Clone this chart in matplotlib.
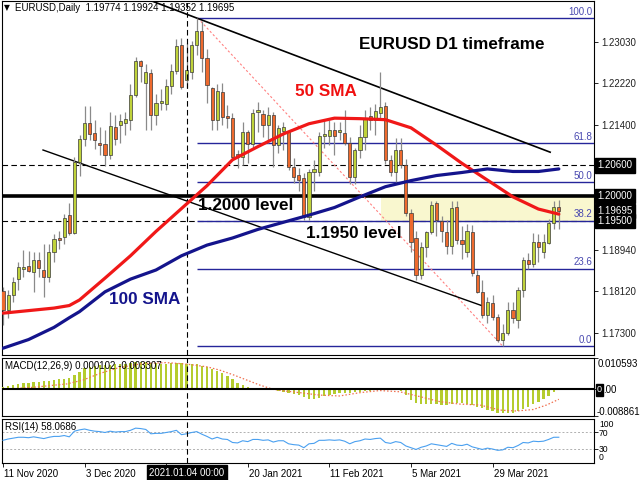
import matplotlib
matplotlib.use('Agg')
import matplotlib.pyplot as plt
from matplotlib.patches import Rectangle
import matplotlib.transforms as mtrans

# ---------------- data ----------------
opens = [1.1812,1.1775,1.1805,1.1836,1.1855,1.1862,1.1850,1.1874,1.1854,1.1840,
         1.1890,1.1917,1.1919,1.1962,1.1927,1.2067,1.2112,1.2143,1.2123,1.2104,
         1.2102,1.2080,1.2135,1.2140,1.2143,1.2149,1.2199,1.2266,1.2222,1.2242,
         1.2159,1.2183,1.2181,1.2216,1.2246,1.2297,1.2228,1.2244,1.2297,1.2325,
         1.2271,1.2212,1.2149,1.2205,1.2157,1.2153,1.2082,1.2077,1.2126,1.2102,
         1.2165,1.2161,1.2140,1.2159,1.2100,1.2128,1.2126,1.2057,1.2041,1.2035,
         1.1958,1.2047,1.2047,1.2118,1.2118,1.2130,1.2125,1.2124,1.2104,1.2037,
         1.2090,1.2116,1.2157,1.2149,1.2163,1.2177,1.2071,1.2047,1.2090,1.2061,
         1.1966,1.1917,1.1844,1.1899,1.1929,1.1985,1.1951,1.1928,1.1901,1.1978,
         1.1914,1.1890,1.1929,1.1844,1.1811,1.1765,1.1789,1.1761,1.1716,1.1730,
         1.1775,1.1755,1.1815,1.1874,1.1866,1.1909,1.1889,1.1907,1.1947,1.19774]
highs = [1.1820,1.1815,1.1840,1.1870,1.1894,1.1892,1.1890,1.1890,1.1905,1.1905,
         1.1925,1.1930,1.1965,1.1985,1.2077,1.2120,1.2177,1.2177,1.2150,1.2135,
         1.2130,1.2165,1.2160,1.2162,1.2165,1.2220,1.2273,1.2268,1.2260,1.2250,
         1.2200,1.2210,1.2230,1.2260,1.2309,1.2310,1.2301,1.2305,1.2350,1.2344,
         1.2290,1.2215,1.2220,1.2223,1.2178,1.2163,1.2090,1.2145,1.2130,1.2172,
         1.2185,1.2170,1.2175,1.2165,1.2140,1.2145,1.2130,1.2075,1.2055,1.2045,
         1.2053,1.2070,1.2125,1.2150,1.2150,1.2145,1.2145,1.2169,1.2115,1.2095,
         1.2140,1.2170,1.2175,1.2180,1.2243,1.2185,1.2080,1.2114,1.2114,1.2072,
         1.1975,1.1930,1.1910,1.1930,1.1990,1.1990,1.1960,1.1952,1.1990,1.1989,
         1.1940,1.1945,1.1942,1.1853,1.1835,1.1800,1.1805,1.1768,1.1747,1.1790,
         1.1790,1.1820,1.1880,1.1888,1.1927,1.1925,1.1925,1.1955,1.1990,1.19924]
lows = [1.1745,1.1760,1.1790,1.1815,1.1840,1.1850,1.1810,1.1840,1.1801,1.1830,
        1.1870,1.1895,1.1905,1.1923,1.1925,1.2039,1.2099,1.2110,1.2092,1.2080,
        1.2058,1.2072,1.2100,1.2105,1.2120,1.2130,1.2195,1.2225,1.2130,1.2130,
        1.2140,1.2170,1.2170,1.2200,1.2240,1.2210,1.2212,1.2230,1.2277,1.2244,
        1.2183,1.2130,1.2130,1.2140,1.2133,1.2070,1.2054,1.2060,1.2065,1.2095,
        1.2125,1.2115,1.2105,1.2057,1.2085,1.2090,1.2050,1.2025,1.2010,1.1952,
        1.1952,1.2010,1.2040,1.2095,1.2100,1.2080,1.2110,1.2100,1.2023,1.2023,
        1.2075,1.2090,1.2130,1.2120,1.2150,1.2063,1.2040,1.2023,1.2055,1.1960,
        1.1889,1.1835,1.1836,1.1880,1.1925,1.1920,1.1910,1.1885,1.1885,1.1905,
        1.1875,1.1880,1.1843,1.1808,1.1760,1.1750,1.1755,1.1712,1.1704,1.1725,
        1.1750,1.1740,1.1800,1.1856,1.1860,1.1870,1.1878,1.1905,1.1935,1.19352]
closes = [1.1775,1.1805,1.1830,1.1860,1.1860,1.1852,1.1874,1.1858,1.1840,1.1890,
          1.1915,1.1913,1.1957,1.1927,1.2067,1.2112,1.2143,1.2122,1.2110,1.2100,
          1.2080,1.2138,1.2112,1.2148,1.2151,1.2199,1.2266,1.2255,1.2244,1.2159,
          1.2183,1.2187,1.2216,1.2246,1.2295,1.2214,1.2248,1.2297,1.2325,1.2271,
          1.2218,1.2149,1.2206,1.2155,1.2153,1.2077,1.2077,1.2126,1.2103,1.2163,
          1.2170,1.2140,1.2159,1.2100,1.2134,1.2136,1.2057,1.2037,1.2031,1.1958,
          1.2047,1.2053,1.2118,1.2122,1.2130,1.2118,1.2130,1.2104,1.2037,1.2090,
          1.2116,1.2153,1.2149,1.2167,1.2175,1.2071,1.2047,1.2090,1.2061,1.1966,
          1.1909,1.1844,1.1899,1.1929,1.1982,1.1953,1.1930,1.1901,1.1977,1.1914,
          1.1906,1.1930,1.1848,1.1811,1.1765,1.1791,1.1761,1.1716,1.1730,1.1775,
          1.1759,1.1815,1.1874,1.1866,1.1909,1.1900,1.1909,1.1947,1.1978,1.19695]

ma_idx = [0, 5, 10, 13, 15, 20, 25, 30, 35, 40, 45, 50, 55, 60, 65, 70, 75, 80, 85, 90, 95, 100, 105, 109]
sma50 = [1.1769,1.1774,1.1779,1.1784,1.1795,1.1838,1.1882,1.1930,1.1975,1.2020,1.2071,1.2097,1.2122,
         1.2142,1.2153,1.2152,1.2150,1.2134,1.2100,1.2064,1.2031,1.1998,1.1974,1.1964]
sma100 = [1.1700,1.1717,1.1741,1.1760,1.1772,1.1811,1.1836,1.1854,1.1882,1.1903,1.1917,1.1934,1.1948,
          1.1962,1.1977,1.1998,1.2018,1.2030,1.2040,1.2046,1.2053,1.2048,1.2048,1.2053]

macd_hist = [0.00067,0.0011,0.0013,0.0018,0.0020,0.0022,0.0024,0.0025,0.0027,0.0029,
             0.0031,0.0033,0.0035,0.0037,0.0048,0.0059,0.0070,0.0075,0.0078,0.0080,
             0.0081,0.0082,0.0083,0.0084,0.0085,0.0088,0.0091,0.0092,0.0092,0.0089,
             0.0086,0.0085,0.0085,0.0086,0.0089,0.0086,0.0084,0.0084,0.0083,0.0078,
             0.0073,0.0067,0.0061,0.0053,0.0044,0.0033,0.0022,0.0016,0.0009,0.0006,
             0.0002,0.0000,-0.0002,-0.0003,-0.0006,-0.0008,-0.0011,-0.0014,-0.0019,-0.0027,
             -0.0032,-0.0033,-0.0029,-0.0022,-0.0019,-0.0016,-0.0013,-0.0011,-0.0011,-0.0010,
             -0.0008,-0.0007,-0.0004,0.0004,0.0006,0.0002,0.0000,-0.0002,-0.0006,-0.0019,
             -0.0035,-0.0047,-0.0050,-0.0050,-0.0049,-0.0049,-0.0052,-0.0052,-0.0049,-0.0047,
             -0.0047,-0.0049,-0.0052,-0.0058,-0.0063,-0.0069,-0.0072,-0.0078,-0.0080,-0.0080,
             -0.0078,-0.0073,-0.0066,-0.0058,-0.0050,-0.0042,-0.0033,-0.0022,-0.0010,0.000102]
signal_idx = [0, 6, 12.5, 15.7, 19, 22.3, 25.6, 27.5, 32, 36, 40, 42.5, 45.2, 47.8, 50.4, 53, 55.6,
              58.2, 62, 66, 70, 73.9, 77.8, 81.7, 85.7, 89.6, 93.5, 97.5, 100.7, 104, 106.6, 109]
signal = [0.0, 0.0007, 0.0018, 0.0031, 0.0053, 0.0070, 0.0081, 0.0086, 0.0089, 0.0084, 0.0075,
          0.0064, 0.0048, 0.0031, 0.0014, 0.0, -0.0006, -0.0011, -0.0019, -0.0022, -0.0011,
          -0.0004, -0.0008, -0.0024, -0.0041, -0.0049, -0.0052, -0.0069, -0.0072, -0.0067,
          -0.0052, -0.003307]
rsi = [51,54,56,58,58,57,59,57,55,58,60,60,62,59,72,75,77,74,72,71,
       69,72,70,71,71,74,79,78,76,66,67,67,69,71,74,64,66,69,71,65,
       60,54,58,54,53,46,45,50,48,53,53,51,52,47,50,50,43,41,40,34,
       43,44,51,51,52,51,52,49,43,48,50,54,53,55,56,46,44,48,46,38,
       34,30,35,38,43,41,39,37,44,40,39,42,36,33,30,33,31,28,29,35,
       34,39,46,45,49,48,49,53,58,58.07]

date_ticks = [0, 16, 32, 48, 64, 80, 96]
date_labels = ['11 Nov 2020', '3 Dec 2020', '', '20 Jan 2021', '11 Feb 2021', '5 Mar 2021', '29 Mar 2021']
cross_idx = 36
cross_label = '2021.01.04 00:00'
price_ticks = [1.23030, 1.22220, 1.21400, 1.18940, 1.18120, 1.17300]
boxed_prices = [1.20600, 1.20000, 1.19695, 1.19500]
fib_low, fib_high = 1.1704, 1.2350
fib_levels = [100.0, 61.8, 50.0, 38.2, 23.6, 0.0]
fib_start = 38

# ---------------- style ----------------
F = 'Liberation Sans'
BULL = '#BFD23A'
BEAR = '#EE6A2E'
W, H = 640, 480
fig = plt.figure(figsize=(6.4, 4.8), dpi=100)
fig.patch.set_facecolor('white')

def px_axes(x0, y0, x1, y1):
    return fig.add_axes([x0 / W, 1 - y1 / H, (x1 - x0) / W, (y1 - y0) / H])

def ftxt(x, y, s, **kw):
    kw.setdefault('family', F)
    return fig.text(x / W, 1 - y / H, s, **kw)

ax = px_axes(2, 1, 594, 355)
axm = px_axes(2, 357.5, 594, 416)
axr = px_axes(2, 419, 594, 462.5)

XMIN, XMAX = -0.2, 115.9
for a in (ax, axm, axr):
    a.set_xlim(XMIN, XMAX)
    for s in a.spines.values():
        s.set_linewidth(0.8)
        s.set_color('black')
    a.tick_params(axis='x', bottom=False, labelbottom=False)
    a.yaxis.tick_right()
    a.tick_params(axis='y', direction='out', length=3, width=0.6, labelsize=7,
                  pad=2, right=True, left=False)
    a.axvline(cross_idx, color='black', lw=0.8, dashes=(5, 3), zorder=6)

# ---------------- main price panel ----------------
ax.set_ylim(1.16866, 1.23837)
ax.set_yticks(price_ticks)
ax.set_yticklabels(['%.5f' % p for p in price_ticks], family=F, color='#222222')

ax.add_patch(Rectangle((74.1, 1.1950), XMAX - 74.1, 0.0050, facecolor='#F9F7CF',
                       edgecolor='none', zorder=0))
ax.axhline(1.2000, color='black', lw=2.6, zorder=2)
ax.axhline(1.2060, color='black', lw=0.8, dashes=(5, 3), zorder=2)
ax.axhline(1.1950, color='black', lw=0.8, dashes=(5, 3), zorder=2)

for lv in fib_levels:
    p = fib_low + (fib_high - fib_low) * lv / 100.0
    ax.hlines(p, fib_start, XMAX, color='#25259A', lw=1.0, zorder=3)
    ax.text(XMAX - 0.4, p + 0.0003, '%.1f' % lv, ha='right', va='bottom',
            fontsize=7, color='#4848B0', family=F, zorder=3)

# fibo diagonal
ax.plot([38.2, 98.0], [fib_high, fib_low], color='#FF8080', lw=0.8, ls=(0, (2, 2)), zorder=3)
# trend lines
ax.plot([25, 107.3], [1.2350 + (38 - 25) * 0.38 * 5.1 / 5078, 1.2086], color='black', lw=1.2, zorder=4)
ax.plot([7.84, 94.1], [1.20903, 1.17831], color='black', lw=1.0, zorder=4)

# candles
for i, (o, h, l, c) in enumerate(zip(opens, highs, lows, closes)):
    ax.vlines(i, l, h, color='#8A8A8A', lw=0.9, zorder=4)
    bottom = min(o, c)
    height = max(abs(c - o), 0.00012)
    ax.bar(i, height, bottom=bottom, width=0.62, color=BULL if c >= o else BEAR,
           edgecolor='#3A3A3A', linewidth=0.5, zorder=5)

ax.plot(ma_idx, sma50, color='#F01818', lw=2.3, zorder=7, solid_capstyle='round')
ax.plot(ma_idx, sma100, color='#14148C', lw=2.3, zorder=7, solid_capstyle='round')

blend = mtrans.blended_transform_factory(ax.transAxes, ax.transData)
for p in boxed_prices:
    ax.text(1.006, p, '%.5f' % p, transform=blend, ha='left', va='center', fontsize=7,
            color='white', family=F, clip_on=False, zorder=10,
            bbox=dict(boxstyle='square,pad=0.22', facecolor='black', edgecolor='black'))

# annotations
ax.text(88, 1.2303 - 3 / 5078, 'EURUSD D1 timeframe', ha='center', va='center',
        fontsize=12.3, fontweight='bold', family=F, color='black', zorder=9)
ax.text(63.3, 1.2303 - 50 / 5078, '50 SMA', ha='center', va='center',
        fontsize=12.3, fontweight='bold', family=F, color='#F01010', zorder=9)
ax.text(27.8, 1.2303 - 258 / 5078, '100 SMA', ha='center', va='center',
        fontsize=12.3, fontweight='bold', family=F, color='#14148C', zorder=9)
ax.text(47.6, 1.2303 - 164 / 5078, '1.2000 level', ha='center', va='center',
        fontsize=12.3, fontweight='bold', family=F, color='black', zorder=9)
ax.text(68.7, 1.2303 - 192 / 5078, '1.1950 level', ha='center', va='center',
        fontsize=12.3, fontweight='bold', family=F, color='black', zorder=9)

ftxt(7, 8, '\u25BC', fontsize=5.5, va='center', ha='center', family='DejaVu Sans')
ftxt(15, 8, 'EURUSD,Daily  1.19774 1.19924 1.19352 1.19695', fontsize=7, va='center')

# ---------------- MACD panel ----------------
axm.set_ylim(-0.008861, 0.010593)
axm.set_yticks([0.010593, 0.0, -0.008861])
axm.set_yticklabels([])
axm.bar(range(len(macd_hist)), macd_hist, width=0.45, color='#B5CC2E', edgecolor='none', zorder=3)
axm.plot(signal_idx, signal, color='#F07050', lw=0.9, ls=(0, (1.2, 1.6)), zorder=4)
axm.axhline(0, color='black', lw=1.5, zorder=5)
ftxt(5, 366, 'MACD(12,26,9) 0.000102 -0.003307', fontsize=7, va='center', zorder=10)
ftxt(598, 364, '0.010593', fontsize=7, va='center')
ftxt(597, 412, '-0.008861', fontsize=7, va='center')
ftxt(597, 390, '0', fontsize=6.5, va='center', color='white',
     bbox=dict(boxstyle='square,pad=0.12', facecolor='black', edgecolor='black'))
ftxt(603, 390, '.00', fontsize=7, va='center', color='black')

# ---------------- RSI panel ----------------
axr.set_ylim(0, 100)
axr.set_yticks([70, 30])
axr.set_yticklabels([])
axr.axhline(70, color='#B0B0B0', lw=0.7, dashes=(2, 2))
axr.axhline(30, color='#B0B0B0', lw=0.7, dashes=(2, 2))
axr.plot(range(len(rsi)), rsi, color='#4AA0F0', lw=0.8, zorder=4)
ftxt(5, 427, 'RSI(14) 58.0686', fontsize=7, va='center')
ftxt(599, 424.5, '100', fontsize=6.2, va='center')
ftxt(599, 433, '70', fontsize=6.2, va='center')
ftxt(599, 449, '30', fontsize=6.2, va='center')
ftxt(599, 457.5, '0', fontsize=6.2, va='center')

# time axis
axr.set_xticks(date_ticks)
axr.tick_params(axis='x', bottom=True, labelbottom=True, direction='out', length=3,
                width=0.6, labelsize=7, pad=1.5)
axr.set_xticklabels(date_labels, ha='left', family=F)
offset = mtrans.ScaledTranslation(1 / 100, 0, fig.dpi_scale_trans)
for lab in axr.get_xticklabels():
    lab.set_transform(lab.get_transform() + offset)
axr.text(cross_idx, -0.12, cross_label, transform=mtrans.blended_transform_factory(axr.transData, axr.transAxes),
         ha='center', va='top', fontsize=7, color='white', family=F, clip_on=False,
         bbox=dict(boxstyle='square,pad=0.25', facecolor='black', edgecolor='black'))

fig.savefig('out.png', dpi=100, facecolor='white')
